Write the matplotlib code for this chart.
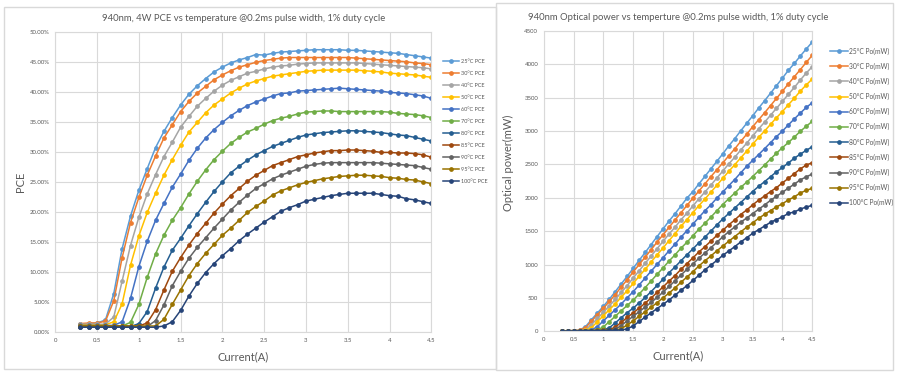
import matplotlib
matplotlib.use("Agg")
import matplotlib.pyplot as plt
from matplotlib.patches import Rectangle
from matplotlib.ticker import FuncFormatter, MultipleLocator

plt.rcParams['font.family'] = ['Lato', 'DejaVu Sans']

current = [0.3, 0.4, 0.5, 0.6, 0.7, 0.8, 0.9, 1.0, 1.1, 1.2, 1.3, 1.4, 1.5, 1.6, 1.7,
           1.8, 1.9, 2.0, 2.1, 2.2, 2.3, 2.4, 2.5, 2.6, 2.7, 2.8, 2.9, 3.0, 3.1, 3.2,
           3.3, 3.4, 3.5, 3.6, 3.7, 3.8, 3.9, 4.0, 4.1, 4.2, 4.3, 4.4, 4.5]

temps = ["25", "30", "40", "50", "60", "70", "80", "85", "90", "95", "100"]
colors = ["#5B9BD5", "#ED7D31", "#A5A5A5", "#FFC000", "#4472C4", "#70AD47",
          "#255E91", "#9E480E", "#636363", "#997300", "#264478"]

# PCE in percent
pce_25 = [1.3, 1.4, 1.5, 2.0, 6.4, 13.9, 19.3, 23.6, 27.2, 30.7, 33.4, 35.7, 37.8, 39.6, 41.0,
          42.2, 43.3, 44.1, 44.8, 45.3, 45.7, 46.2, 46.1, 46.4, 46.6, 46.7, 46.8, 46.9, 47.0, 47.0,
          47.0, 47.0, 46.9, 46.9, 46.8, 46.7, 46.6, 46.5, 46.4, 46.2, 46.0, 45.8, 45.6]
pce_30 = [1.4, 1.5, 1.5, 1.8, 5.2, 12.4, 18.2, 22.4, 26.1, 29.3, 32.3, 34.5, 36.7, 38.4, 39.8,
          40.9, 42.0, 42.8, 43.5, 44.1, 44.5, 44.9, 45.2, 45.4, 45.6, 45.7, 45.7, 45.7, 45.7, 45.7,
          45.7, 45.7, 45.7, 45.6, 45.5, 45.4, 45.3, 45.2, 45.1, 45.0, 44.8, 44.7, 44.5]
pce_40 = [1.3, 1.3, 1.3, 1.3, 2.5, 8.5, 14.4, 19.1, 23.0, 26.2, 29.2, 31.6, 34.1, 35.9, 37.6,
          38.9, 40.1, 41.1, 41.9, 42.5, 43.1, 43.4, 43.8, 44.1, 44.3, 44.4, 44.6, 44.7, 44.8, 44.8,
          44.8, 44.8, 44.8, 44.8, 44.7, 44.6, 44.5, 44.4, 44.3, 44.2, 44.1, 44.0, 43.8]
pce_50 = [1.2, 1.2, 1.2, 1.2, 1.7, 4.7, 11.1, 16.0, 19.9, 23.1, 26.1, 28.7, 31.1, 33.3, 34.9,
          36.5, 37.8, 38.8, 39.8, 40.6, 41.3, 41.8, 42.2, 42.6, 42.8, 43.0, 43.2, 43.4, 43.5, 43.6,
          43.6, 43.6, 43.6, 43.6, 43.5, 43.4, 43.3, 43.1, 43.0, 42.9, 42.8, 42.6, 42.4]
pce_60 = [1.1, 1.1, 1.1, 1.1, 1.1, 1.7, 5.6, 10.9, 15.1, 18.6, 21.4, 24.1, 26.3, 28.6, 30.6,
          32.3, 33.7, 34.9, 36.0, 36.9, 37.7, 38.3, 38.8, 39.3, 39.7, 39.8, 40.1, 40.2, 40.3, 40.4,
          40.5, 40.6, 40.5, 40.4, 40.3, 40.2, 40.1, 39.9, 39.8, 39.7, 39.5, 39.3, 38.9]
pce_70 = [1.0, 1.0, 1.0, 1.0, 1.0, 1.0, 1.6, 4.6, 9.1, 13.0, 16.1, 18.6, 20.7, 23.0, 25.1,
          27.0, 28.7, 30.1, 31.4, 32.4, 33.3, 33.9, 34.6, 35.2, 35.6, 35.9, 36.3, 36.6, 36.7, 36.8,
          36.8, 36.7, 36.7, 36.7, 36.7, 36.7, 36.7, 36.6, 36.4, 36.3, 36.2, 36.0, 35.7]
pce_80 = [0.9, 0.9, 0.9, 0.9, 0.9, 0.9, 0.9, 1.4, 3.4, 7.3, 10.8, 13.6, 15.6, 17.7, 19.7,
          21.6, 23.4, 25.0, 26.5, 27.6, 28.6, 29.5, 30.2, 30.9, 31.4, 31.9, 32.4, 32.8, 33.0, 33.2,
          33.3, 33.4, 33.5, 33.5, 33.4, 33.3, 33.2, 33.0, 32.8, 32.7, 32.4, 32.1, 31.8]
pce_85 = [1.0, 1.0, 1.0, 1.0, 1.0, 1.0, 1.0, 1.0, 1.5, 3.7, 7.0, 10.1, 12.4, 14.5, 16.4,
          18.1, 19.8, 21.3, 22.7, 23.9, 25.1, 26.1, 26.9, 27.7, 28.2, 28.7, 29.2, 29.5, 29.8, 30.0,
          30.2, 30.2, 30.3, 30.3, 30.2, 30.1, 29.9, 29.9, 29.8, 29.8, 29.7, 29.5, 29.1]
pce_90 = [0.9, 0.9, 0.9, 0.9, 0.9, 0.9, 0.9, 0.9, 0.9, 1.9, 4.5, 7.7, 10.1, 12.3, 14.1,
          15.7, 17.3, 18.8, 20.3, 21.6, 22.8, 23.9, 24.7, 25.5, 26.1, 26.6, 27.1, 27.6, 27.9, 28.1,
          28.2, 28.2, 28.2, 28.2, 28.2, 28.2, 28.1, 28.0, 27.9, 27.8, 27.7, 27.4, 27.1]
pce_95 = [1.0, 1.0, 1.0, 1.0, 1.0, 1.0, 1.0, 1.0, 1.0, 1.0, 2.1, 4.6, 7.0, 9.4, 11.4,
          13.1, 14.6, 16.1, 17.3, 18.6, 19.9, 20.9, 21.8, 22.8, 23.5, 24.0, 24.5, 24.9, 25.2, 25.5,
          25.7, 25.9, 26.0, 26.1, 26.1, 26.0, 25.9, 25.7, 25.6, 25.4, 25.3, 25.0, 24.7]
pce_100 = [0.8, 0.8, 0.8, 0.8, 0.8, 0.8, 0.8, 0.8, 0.8, 0.8, 1.0, 1.7, 3.6, 6.0, 8.1,
           9.9, 11.4, 12.7, 13.9, 15.2, 16.3, 17.3, 18.3, 19.2, 20.1, 20.7, 21.2, 21.8, 22.1, 22.4,
           22.7, 22.9, 23.1, 23.1, 23.1, 23.1, 22.9, 22.7, 22.6, 22.2, 22.0, 21.7, 21.4]

# optical power in mW
po_25 = [6, 8, 11, 18, 69, 174, 274, 375, 481, 596, 711, 825, 945, 1065, 1181,
         1300, 1420, 1535, 1653, 1762, 1878, 1996, 2093, 2209, 2321, 2433, 2546, 2659, 2778, 2886,
         3003, 3116, 3227, 3344, 3454, 3568, 3681, 3794, 3912, 4015, 4126, 4232, 4335]
po_30 = [6, 9, 11, 16, 54, 150, 250, 345, 448, 551, 667, 773, 890, 1002, 1112,
         1223, 1338, 1447, 1559, 1667, 1778, 1886, 1996, 2102, 2209, 2317, 2420, 2523, 2630, 2733,
         2845, 2952, 3064, 3169, 3274, 3382, 3490, 3598, 3709, 3816, 3922, 4032, 4136]
po_40 = [5, 7, 9, 11, 25, 99, 192, 285, 382, 477, 584, 686, 801, 908, 1019,
         1128, 1239, 1348, 1458, 1560, 1672, 1771, 1879, 1985, 2087, 2189, 2297, 2400, 2509, 2607,
         2715, 2818, 2925, 3033, 3133, 3238, 3342, 3445, 3553, 3655, 3766, 3872, 3965]
po_50 = [5, 7, 8, 10, 17, 54, 145, 234, 324, 412, 512, 611, 717, 827, 928,
         1039, 1146, 1249, 1360, 1463, 1574, 1675, 1779, 1884, 1981, 2084, 2187, 2292, 2396, 2496,
         2599, 2698, 2801, 2905, 3001, 3101, 3201, 3293, 3396, 3494, 3600, 3693, 3781]
po_60 = [4, 6, 7, 9, 11, 19, 71, 156, 241, 325, 411, 503, 594, 696, 798,
         902, 1003, 1103, 1207, 1306, 1411, 1507, 1606, 1707, 1806, 1895, 1995, 2086, 2182, 2274,
         2374, 2471, 2560, 2648, 2736, 2827, 2918, 3000, 3094, 3183, 3271, 3355, 3426]
po_70 = [4, 5, 7, 8, 10, 11, 20, 66, 145, 227, 309, 388, 468, 560, 655,
         754, 854, 951, 1053, 1146, 1246, 1334, 1432, 1529, 1619, 1710, 1806, 1900, 1987, 2071,
         2157, 2234, 2319, 2405, 2491, 2581, 2670, 2752, 2830, 2911, 2998, 3073, 3147]
po_80 = [4, 5, 6, 7, 9, 10, 11, 20, 53, 126, 205, 280, 348, 425, 507,
         595, 687, 780, 878, 964, 1057, 1147, 1235, 1326, 1411, 1501, 1593, 1683, 1766, 1847,
         1930, 2010, 2094, 2171, 2242, 2316, 2390, 2455, 2523, 2594, 2656, 2712, 2766]
po_85 = [4, 5, 6, 7, 9, 10, 11, 13, 24, 64, 133, 208, 277, 348, 422,
         499, 582, 665, 752, 835, 928, 1015, 1100, 1189, 1267, 1351, 1436, 1513, 1595, 1669,
         1750, 1817, 1894, 1964, 2028, 2094, 2152, 2225, 2292, 2364, 2434, 2492, 2527]
po_90 = [4, 5, 6, 7, 9, 10, 11, 13, 14, 33, 85, 158, 225, 295, 363,
         433, 508, 587, 672, 755, 843, 929, 1010, 1094, 1173, 1252, 1333, 1416, 1493, 1563,
         1634, 1697, 1763, 1828, 1893, 1962, 2023, 2083, 2146, 2206, 2270, 2315, 2357]
po_95 = [4, 5, 7, 8, 10, 11, 13, 14, 16, 17, 40, 95, 156, 226, 293,
         361, 429, 502, 573, 650, 736, 813, 892, 979, 1056, 1129, 1205, 1277, 1349, 1419,
         1490, 1559, 1625, 1692, 1752, 1809, 1864, 1912, 1969, 2015, 2074, 2112, 2143]
po_100 = [3, 4, 5, 6, 8, 9, 10, 11, 13, 14, 19, 36, 82, 147, 213,
          278, 341, 404, 469, 541, 614, 685, 762, 839, 920, 992, 1061, 1138, 1203, 1268,
          1338, 1401, 1468, 1522, 1577, 1633, 1675, 1716, 1766, 1789, 1832, 1862, 1888]

pce_all = [pce_25, pce_30, pce_40, pce_50, pce_60, pce_70, pce_80, pce_85, pce_90, pce_95, pce_100]
po_all = [po_25, po_30, po_40, po_50, po_60, po_70, po_80, po_85, po_90, po_95, po_100]

W, H = 900, 379
fig = plt.figure(figsize=(W / 100, H / 100), dpi=100)

grid_c = "#D9D9D9"
text_c = "#595959"


def box(x0, y0, x1, y1):
    fig.patches.append(Rectangle((x0 / W, 1 - y1 / H), (x1 - x0) / W, (y1 - y0) / H,
                                 transform=fig.transFigure, fill=False,
                                 edgecolor=grid_c, linewidth=1.0))


def style(ax):
    ax.grid(True, color=grid_c, linewidth=0.8)
    ax.set_axisbelow(True)
    for s in ax.spines.values():
        s.set_color(grid_c)
        s.set_linewidth(0.8)
    ax.tick_params(length=0, labelsize=4.3, labelcolor=text_c, pad=4)
    ax.set_xlim(0, 4.5)
    ax.xaxis.set_major_locator(MultipleLocator(0.5))
    ax.xaxis.set_major_formatter(FuncFormatter(lambda v, p: f"{v:g}"))


box(4, 7, 496, 369)
box(496, 3, 893, 370)

# left chart: PCE
ax1 = fig.add_axes([55.3 / W, 1 - 332 / H, 376 / W, 300.3 / H])
style(ax1)
for t, c, ys in zip(temps, colors, pce_all):
    ax1.plot(current, ys, color=c, lw=1.1, marker="o", ms=2.4, label=f"{t}°C PCE")
ax1.set_ylim(0, 50)
ax1.yaxis.set_major_locator(MultipleLocator(5))
ax1.yaxis.set_major_formatter(FuncFormatter(lambda v, p: f"{v:.2f}%"))
ax1.set_title("940nm, 4W PCE vs temperature @0.2ms pulse width, 1% duty cycle",
              fontsize=6.8, color=text_c, pad=8)
ax1.set_xlabel("Current(A)", fontsize=8, color=text_c, labelpad=6)
ax1.set_ylabel("PCE", fontsize=8, color=text_c)
ax1.yaxis.set_label_coords(-0.078, 0.5)
fig.legend(*ax1.get_legend_handles_labels(), loc="upper left",
           bbox_to_anchor=(440 / W, 1 - 56 / H), frameon=False, fontsize=4,
           handlelength=3.0, handletextpad=0.3, labelspacing=1.26, borderpad=0,
           labelcolor=text_c)

# right chart: optical power
ax2 = fig.add_axes([543.7 / W, 1 - 331.3 / H, 268.6 / W, 300.3 / H])
style(ax2)
for t, c, ys in zip(temps, colors, po_all):
    ax2.plot(current, ys, color=c, lw=1.1, marker="o", ms=2.4, label=f"{t}°C Po(mW)")
ax2.set_ylim(0, 4500)
ax2.yaxis.set_major_locator(MultipleLocator(500))
ax2.set_title("940nm Optical power vs temperture @0.2ms pulse width, 1% duty cycle",
              fontsize=6.8, color=text_c, pad=8)
ax2.set_xlabel("Current(A)", fontsize=8, color=text_c, labelpad=6)
ax2.set_ylabel("Optical power(mW)", fontsize=8, color=text_c)
ax2.yaxis.set_label_coords(-0.11, 0.56)
fig.legend(*ax2.get_legend_handles_labels(), loc="upper left",
           bbox_to_anchor=(827 / W, 1 - 44 / H), frameon=False, fontsize=4.8,
           handlelength=2.6, handletextpad=0.2, labelspacing=1.2, borderpad=0,
           labelcolor=text_c)

fig.savefig("out.png", dpi=100)
